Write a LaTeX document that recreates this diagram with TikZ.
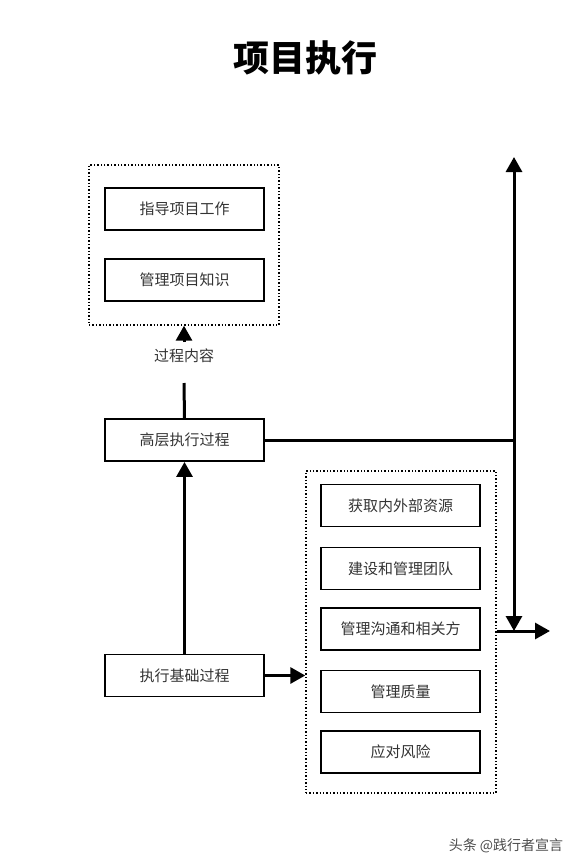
\documentclass[tikz,border=0pt]{standalone}
\usepackage{fontspec}
\setmainfont{Noto Sans CJK SC}
\usetikzlibrary{arrows.meta}
\tikzset{
    task/.style={draw,line width=1.9pt,minimum width=159pt,minimum height=42pt,inner sep=0pt,font=\fontsize{15}{15}\selectfont,text=black!80},
    group/.style={draw,dotted,line width=1.4pt,inner sep=0pt},
    flow/.style={line width=3pt,-{Triangle[width=16pt,length=15pt]}},
    link/.style={line width=3pt}
}
\def\lx{184.5}
\def\rx{400.5}

\begin{document}
\begin{tikzpicture}[x=1pt,y=-1pt]
  \useasboundingbox (0,0) rectangle (583,867);
  \node[font=\fontsize{36}{36}\selectfont\bfseries] (title) at (305,58) {项目执行};

  % Process content
  \node[group,minimum width=190pt,minimum height=160pt] (content) at (184,245) {};
  \node[task] (guide) at (\lx,209) {指导项目工作};
  \node[task] (know) at (\lx,280) {管理项目知识};
  \node[font=\fontsize{15}{15}\selectfont,text=black!80] (lbl) at (184,356) {过程内容};

  % Processes
  \node[task] (high) at (\lx,440) {高层执行过程};
  \node[task] (base) at (\lx,675.5) {执行基础过程};

  % Base tasks
  \node[group,minimum width=190pt,minimum height=322pt] (tasks) at (401,632) {};
  \node[task] (res) at (\rx,505.5) {获取内外部资源};
  \node[task] (team) at (\rx,568.5) {建设和管理团队};
  \node[task] (comm) at (\rx,629) {管理沟通和相关方};
  \node[task] (qual) at (\rx,691.5) {管理质量};
  \node[task] (risk) at (\rx,752) {应对风险};

  % Connectors
  \coordinate (lbltop) at (184,342);
  \coordinate (lblbot) at (184,383);
  \coordinate (jn) at (514,440);
  \coordinate (up) at (514,157);
  \coordinate (dn) at (514,631);
  \coordinate (out) at (550,631);
  \draw[flow] (lbltop) -- (content.south);
  \draw[link] (high.north) -- (lblbot);
  \draw[flow] (base) -- (high);
  \draw[flow] (base.east) -- (base.east -| tasks.west);
  \draw[link] (high.east) -- (jn);
  \draw[flow] (jn) -- (up);
  \draw[flow] (jn) -- (dn);
  \draw[flow] (tasks.east |- out) -- (out);

  \node[font=\fontsize{14}{14}\selectfont,text=black!70] (mark) at (506,846) {头条 @践行者宣言};
\end{tikzpicture}
\end{document}
